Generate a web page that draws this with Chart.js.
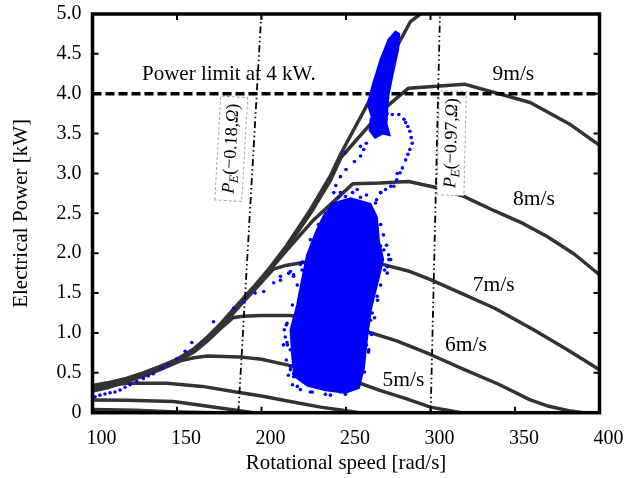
<!DOCTYPE html>
<html><head><meta charset="utf-8">
<script src="https://cdn.jsdelivr.net/npm/chart.js@4.4.0/dist/chart.umd.min.js"></script>
<style>html,body{margin:0;padding:0;background:#fff;}canvas{display:block;}</style>
</head><body>
<canvas id="c" width="640" height="478"></canvas>
<script>
// ---------- tick labels ----------
const xTicks = [100,150,200,250,300,350,400];
const yTicks = [0,0.5,1,1.5,2,2.5,3,3.5,4,4.5,5];

// ---------- power curves per wind speed (speed rad/s, power kW) ----------
const speed2 = [100,125,150,170];
const power2 = [0.04,0.03,0.01,0];
const speed3 = [100,120,148,165,185,195];
const power3 = [0.16,0.155,0.14,0.09,0.03,0];
const speed4 = [100,110,120,144,165,185,200,217,235,248,258];
const power4 = [0.29,0.34,0.37,0.37,0.33,0.26,0.21,0.14,0.07,0.03,0];
const speed5 = [100,110,120,130,140,152,160,168,187,200,215,237,253,270,285,300,310,318];
const power5 = [0.27,0.32,0.39,0.46,0.54,0.65,0.69,0.71,0.70,0.67,0.60,0.50,0.41,0.28,0.18,0.07,0.03,0];
const speed6 = [100,110,120,130,140,150,160,168,176,183,189,200,217,235,259,280,300,318,340,359,370,383,390];
const power6 = [0.28,0.33,0.40,0.47,0.55,0.64,0.76,0.90,1.06,1.19,1.21,1.22,1.22,1.17,1.04,0.90,0.73,0.56,0.36,0.16,0.08,0.02,0];
const speed7 = [100,110,120,130,140,150,160,168,176,183,195,207,215,229,245,260,270,288,300,318,338,361,381,400];
const power7 = [0.30,0.35,0.41,0.48,0.56,0.66,0.79,0.94,1.10,1.25,1.52,1.80,1.85,1.90,1.92,1.92,1.87,1.77,1.67,1.50,1.31,1.04,0.79,0.54];
const speed8 = [100,110,120,130,140,150,160,168,176,183,195,205,215,230,254,270,287,304,320,338,355,369,385,400];
const power8 = [0.33,0.37,0.42,0.49,0.57,0.66,0.78,0.92,1.08,1.24,1.54,1.79,2.04,2.40,2.87,2.88,2.90,2.82,2.71,2.53,2.37,2.21,1.99,1.73];
const speed9 = [100,110,120,130,140,150,160,168,176,183,195,205,215,229,241,247,272,287,320,359,383,401];
const power9 = [0.31,0.36,0.41,0.48,0.56,0.65,0.77,0.91,1.08,1.26,1.55,1.80,2.07,2.50,2.92,3.20,3.80,4.07,4.12,3.89,3.61,3.34];
const speed10 = [100,110,120,130,140,150,160,168,176,183,195,205,215,229,241,247,263,276,288,300];
const power10 = [0.34,0.38,0.43,0.50,0.58,0.67,0.80,0.95,1.12,1.29,1.57,1.82,2.10,2.55,2.98,3.25,3.88,4.43,4.90,5.10];

// ---------- reference lines ----------
const limitSpeed = [100,400];
const limitPower = [4,4];
const peLowSpeed = [186.3,199.9];
const peLowPower = [0,5];
const peHighSpeed = [300.1,305.6];
const peHighPower = [0,5];

// ---------- measured operating points (blue) ----------
const trajSpeed = [101.5,104.4,107.4,110.4,113.3,116.3,119.3,122.2,126.2,130.1,133,136,141,144.9,149.9,154.8,158.8,171.6,183.5,189.4,196.3,201.3,207.2,211.2,216.1,219,223,
  233,236,240,242.8,244,246.7,250,255,258.6,260.5,262,249.7,258.6,
  271.5,274.4,277.4,281.3,284.3,285.3,286.6,287.8,288.6,289.2,287.8,286.6,285.3,283.4,282,280,276.5,273.4,270.5,
  246.7,256.6,270.5,278.3,280.3,234.9,232.9,231.9,229,217.1,211.2,272.4,276.4,274.4,268.5,
  274.4,275.4,270.5,266.5,265.5,264.5,263.5,258.6,252.7,246.7,248.7,
  217.1,219,225,236.8,248.7,215.1,215.1,214.1,217.1,219,224,219,
  233.7,237.8,242,249.7,258.6,267.5,270.5,272.2,269.3,265.7,264.5,262.1,259.8,255.6,246.7,237.8,228.9,221.2,217.1,215.3,214.7,218.3,221.2,224.2,228.9,
  274,275.2,272.8,270.5,268.7,266.9,265.1,263.3,260.9,257.4,
  245.6,253.9,262.1,268.1,
  213.5,213,214.7,215.9,218.3,223,230.1,240.8,249.7,223,224.8,227.8,231.9,236];
const trajPower = [0.20,0.22,0.235,0.25,0.26,0.285,0.32,0.35,0.39,0.43,0.46,0.49,0.56,0.60,0.68,0.77,0.88,1.14,1.31,1.39,1.50,1.52,1.63,1.66,1.75,1.73,1.86,
  2.25,2.40,2.54,2.76,2.85,2.96,3.05,3.15,3.22,3.30,3.38,3.26,3.34,
  3.76,3.75,3.74,3.74,3.68,3.64,3.59,3.53,3.45,3.38,3.30,3.24,3.17,3.07,3.01,2.92,2.84,2.80,2.76,
  2.76,2.80,2.76,2.84,3.00,2.26,2.13,1.92,1.83,1.77,1.71,2.04,1.92,1.83,1.46,
  1.75,1.92,2.09,1.54,1.25,1.00,0.79,0.58,0.29,0.33,0.26,
  0.58,0.45,0.39,0.37,0.33,1.12,0.88,0.95,0.79,0.49,1.79,1.71,
  2.36,2.48,2.61,2.71,2.70,2.63,2.36,2.23,1.85,1.48,1.16,0.85,0.60,0.38,0.26,0.23,0.26,0.33,0.54,0.85,1.10,1.35,1.60,1.89,2.17,
  2.10,1.98,1.79,1.60,1.41,1.19,0.98,0.76,0.51,0.33,
  2.70,2.76,2.73,2.67,
  1.04,0.85,0.66,0.47,0.35,0.29,0.26,0.22,0.23,1.41,1.67,1.94,2.19,2.40];

// dense cloud outlines
const cloudSpeed = [241.5,252.7,264.5,268.3,269.5,272,268.3,264.7,262.3,260.6,257.6,249.7,237.8,227,219.3,218.1,217.2,221.1,224,227,232.5,238];
const cloudPower = [2.62,2.69,2.62,2.45,2.15,1.92,1.60,1.29,0.91,0.56,0.31,0.25,0.28,0.34,0.46,0.73,1.04,1.35,1.67,1.98,2.28,2.52];
const upperSpeed = [262.6,265.9,270.5,275.2,279.3,281.5,280.9,277.6,275.2,274.4,274,275.8,271.6,267.2,264,264.7];
const upperPower = [3.85,4.12,4.43,4.68,4.78,4.75,4.56,4.24,3.99,3.80,3.62,3.48,3.50,3.45,3.54,3.70];

// ---------- text annotations ----------
const windLabels = ['5m/s','6m/s','7m/s','8m/s','9m/s'];
const windLabelSpeed = [284,321,337.4,361.2,349];
const windLabelPower = [0.41,0.84,1.60,2.68,4.24];
const limitText = 'Power limit at 4 kW.';
const limitTextAt = [129.3,4.24];
const peBoxCenters = [[182.1,3.31],[312.5,3.38]];
const peValues = ['0.18','0.97'];

const pts = (xs, ys) => xs.map((x,i)=>({x, y: ys[i]}));
const SERIF = '"Liberation Serif","Times New Roman",serif';
const curveColor = '#333333';
const curve = (xs, ys, label) => ({label, data: pts(xs,ys), showLine:true, borderColor:curveColor, borderWidth:3.5, pointRadius:0, fill:false, order:5, clip:0, borderJoinStyle:'round'});

const datasets = [
  {label:'traj', data: pts(trajSpeed,trajPower), showLine:false, pointRadius:1.8, pointBackgroundColor:'#0000ff', pointBorderWidth:0, order:0, clip:0},
  {label:'cloud', data: pts(cloudSpeed,cloudPower), showLine:true, fill:'shape', backgroundColor:'#0000ff', borderColor:'#0000ff', borderWidth:2, pointRadius:0, order:1, clip:0},
  {label:'upper', data: pts(upperSpeed,upperPower), showLine:true, fill:'shape', backgroundColor:'#0000ff', borderColor:'#0000ff', borderWidth:2, pointRadius:0, order:1, clip:0},
  {label:'limit', data: pts(limitSpeed,limitPower), showLine:true, borderColor:'#000', borderWidth:3.5, borderDash:[9,4], pointRadius:0, order:2, clip:0},
  {label:'peLow', data: pts(peLowSpeed,peLowPower), showLine:true, borderColor:'#000', borderWidth:1.8, borderDash:[7,3,1.5,3,1.5,3], pointRadius:0, order:3, clip:0},
  {label:'peHigh', data: pts(peHighSpeed,peHighPower), showLine:true, borderColor:'#000', borderWidth:1.8, borderDash:[7,3,1.5,3,1.5,3], pointRadius:0, order:3, clip:0},
  curve(speed2,power2,'2'), curve(speed3,power3,'3'), curve(speed4,power4,'4'), curve(speed5,power5,'5'),
  curve(speed6,power6,'6'), curve(speed7,power7,'7'), curve(speed8,power8,'8'), curve(speed9,power9,'9'), curve(speed10,power10,'10')
];

let boxesDrawn = false;
function drawPEBox(chart, k) {
  const {ctx, scales:{x, y}} = chart;
  const ls = k===0 ? [peLowSpeed, peLowPower] : [peHighSpeed, peHighPower];
  const x0 = x.getPixelForValue(ls[0][0]), y0 = y.getPixelForValue(ls[1][0]);
  const x1 = x.getPixelForValue(ls[0][1]), y1 = y.getPixelForValue(ls[1][1]);
  const ang = Math.atan2(y1-y0, x1-x0);
  const cx = x.getPixelForValue(peBoxCenters[k][0]), cy = y.getPixelForValue(peBoxCenters[k][1]);
  const f = 18;
  const parts = [
    {t:'P', font:`italic ${f}px ${SERIF}`, dy:0},
    {t:'E', font:`italic ${Math.round(f*0.7)}px ${SERIF}`, dy:f*0.28},
    {t:'(\u2212'+peValues[k]+',', font:`${f}px ${SERIF}`, dy:0},
    {t:'\u03A9', font:`italic ${f}px ${SERIF}`, dy:0},
    {t:')', font:`${f}px ${SERIF}`, dy:0}
  ];
  ctx.save();
  ctx.translate(cx, cy); ctx.rotate(ang);
  let w = 0;
  parts.forEach(p=>{ctx.font=p.font; p.w=ctx.measureText(p.t).width; w+=p.w;});
  const L = 104, H = 27;
  ctx.fillStyle = '#fff';
  ctx.fillRect(-L/2, -H/2, L, H);
  ctx.setLineDash([3,2]); ctx.strokeStyle = '#aaa'; ctx.lineWidth = 1;
  ctx.strokeRect(-L/2, -H/2, L, H);
  ctx.setLineDash([]);
  ctx.fillStyle = '#000'; ctx.textBaseline = 'middle'; ctx.textAlign='left';
  let px = -w/2;
  parts.forEach(p=>{ctx.font=p.font; ctx.fillText(p.t, px, p.dy); px += p.w;});
  ctx.restore();
}

const deco = {
  id:'deco',
  beforeDatasetsDraw(){ boxesDrawn = false; },
  beforeDatasetDraw(chart, args){
    const lab = chart.data.datasets[args.index].label;
    if (!boxesDrawn && (lab==='peLow' || lab==='peHigh')) {
      drawPEBox(chart,0); drawPEBox(chart,1); boxesDrawn = true;
    }
  },
  afterDatasetsDraw(chart){
    const {ctx, scales:{x,y}} = chart;
    ctx.save();
    ctx.fillStyle = '#000';
    ctx.font = `21.5px ${SERIF}`;
    ctx.textBaseline = 'middle';
    ctx.textAlign = 'center';
    windLabels.forEach((t,i)=>ctx.fillText(t, x.getPixelForValue(windLabelSpeed[i]), y.getPixelForValue(windLabelPower[i])));
    ctx.textAlign = 'left';
    ctx.font = `21px ${SERIF}`;
    ctx.fillText(limitText, x.getPixelForValue(limitTextAt[0]), y.getPixelForValue(limitTextAt[1]));
    ctx.restore();
  },
  afterDraw(chart){
    const {ctx, chartArea:a, scales:{x,y}} = chart;
    ctx.save();
    ctx.strokeStyle = '#000';
    ctx.lineWidth = 2;
    const tl = 6;
    xTicks.forEach(v=>{
      const p = x.getPixelForValue(v);
      ctx.beginPath(); ctx.moveTo(p, a.bottom); ctx.lineTo(p, a.bottom-tl); ctx.moveTo(p, a.top); ctx.lineTo(p, a.top+tl); ctx.stroke();
    });
    yTicks.forEach(v=>{
      const p = y.getPixelForValue(v);
      ctx.beginPath(); ctx.moveTo(a.left, p); ctx.lineTo(a.left+tl, p); ctx.moveTo(a.right, p); ctx.lineTo(a.right-tl, p); ctx.stroke();
    });
    ctx.lineWidth = 3.5;
    ctx.strokeRect(a.left, a.top, a.right-a.left, a.bottom-a.top);
    ctx.restore();
  }
};

new Chart(document.getElementById('c'), {
  type:'scatter',
  data:{datasets},
  options:{
    responsive:false, animation:false, devicePixelRatio:1,
    layout:{padding:{left:0,right:40.5,top:14,bottom:0}},
    plugins:{legend:{display:false}, tooltip:{enabled:false}},
    scales:{
      x:{type:'linear', min:100, max:400,
        afterBuildTicks:s=>{s.ticks = xTicks.map(v=>({value:v}));},
        ticks:{font:{family:SERIF,size:20}, color:'#000', padding:14, labelOffset:9, maxRotation:0, autoSkip:false},
        grid:{display:false, drawTicks:false}, border:{display:false},
        title:{display:true, text:'Rotational speed [rad/s]', font:{family:SERIF,size:21}, color:'#000', padding:{top:0,bottom:2}},
        afterFit:s=>{s.height = 65.3; s.paddingLeft = 0; s.paddingRight = 0;}
      },
      y:{type:'linear', min:0, max:5,
        afterBuildTicks:s=>{s.ticks = yTicks.map(v=>({value:v}));},
        ticks:{font:{family:SERIF,size:20}, color:'#000', padding:11, autoSkip:false, callback:v=> v===0 ? '0' : Number(v).toFixed(1)},
        grid:{display:false, drawTicks:false}, border:{display:false},
        title:{display:true, text:'Electrical Power [kW]', font:{family:SERIF,size:21}, color:'#000', padding:{top:9,bottom:0}},
        afterFit:s=>{s.width = 92.5; s.paddingTop = 0; s.paddingBottom = 0;}
      }
    }
  },
  plugins:[deco]
});
</script>
</body></html>
